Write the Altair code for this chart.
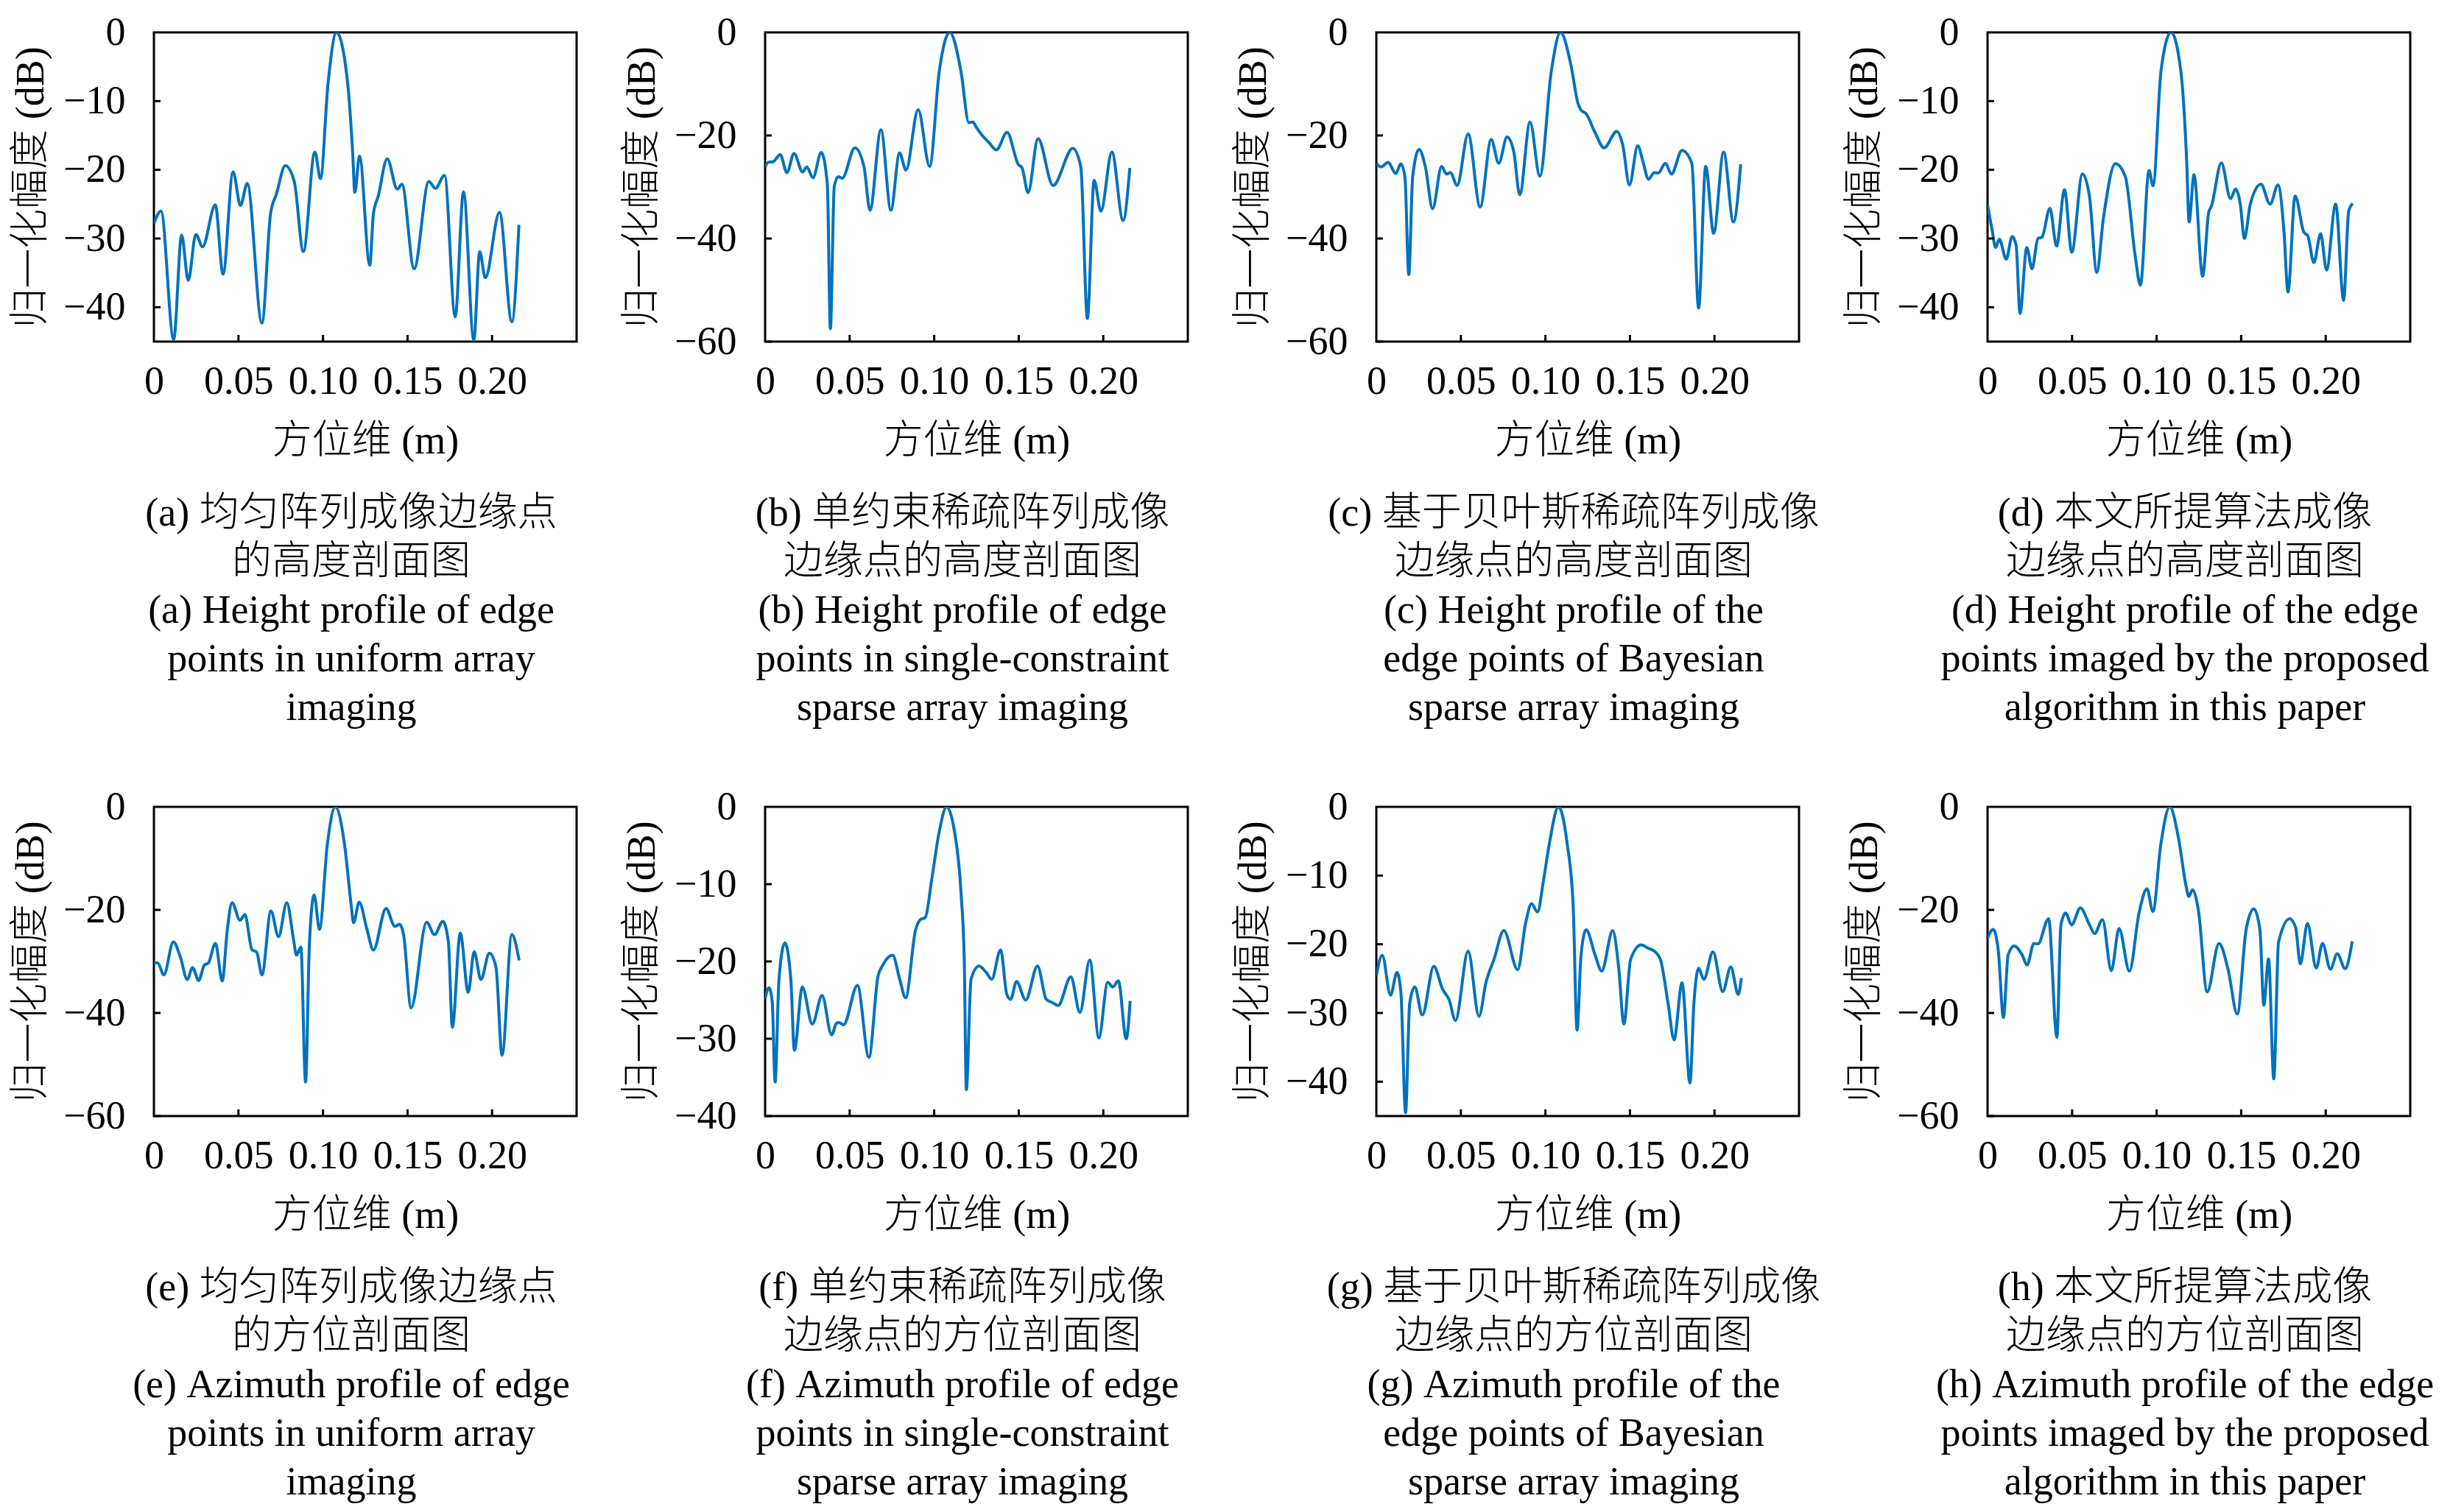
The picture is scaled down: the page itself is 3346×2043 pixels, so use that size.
import altair as alt
import pandas as pd

FONT = "'Liberation Serif', 'Noto Sans CJK SC'"
BLUE = "#0072BD"
W, H = 574, 420
TICK = 9

# x tick values (m) and y axis ranges
x_ticks = [0, 0.05, 0.10, 0.15, 0.20]
x_domain = [0, 0.25]

# ---- data: (azimuth m, normalized amplitude dB) ----
a_pts = [(0, -27.8), (0.0042, -26.0), (0.0117, -44.7), (0.0164, -29.5), (0.0203, -36.1), (0.0248, -29.4),
         (0.0288, -31.2), (0.0363, -25.1), (0.0409, -35.2), (0.0468, -20.3), (0.0512, -25.2), (0.0552, -22.0),
         (0.0639, -42.3), (0.069, -26.4), (0.0725, -23.5), (0.0777, -19.4), (0.083, -21.7), (0.0884, -31.9),
         (0.0952, -17.4), (0.0985, -21.3), (0.103, -7.4), (0.108, 0), (0.1146, -7.4), (0.1177, -18.2),
         (0.1188, -23.3), (0.1216, -18.0), (0.1277, -33.9), (0.1298, -26.4), (0.1326, -23.9), (0.138, -18.4),
         (0.1439, -22.8), (0.1467, -22.1), (0.1539, -34.4), (0.1626, -21.7), (0.1665, -22.7), (0.1719, -20.8),
         (0.1782, -41.4), (0.1831, -23.2), (0.1892, -44.8), (0.1927, -31.9), (0.196, -35.7), (0.2044, -26.2),
         (0.2117, -42.1), (0.2159, -28.0)]

b_pts = [(0, -26.1), (0.0019, -25.2), (0.0047, -25.1), (0.0089, -23.7), (0.0129, -27.2), (0.0171, -23.5),
         (0.0222, -27.1), (0.0246, -26.1), (0.0283, -28.2), (0.0332, -23.3), (0.0368, -29.5), (0.0386, -57.5),
         (0.0409, -29.9), (0.0433, -28.0), (0.0456, -28.3), (0.0531, -22.4), (0.0585, -26.1), (0.062, -34.5),
         (0.0685, -18.9), (0.0744, -34.5), (0.0795, -23.4), (0.0833, -26.7), (0.0905, -15.0), (0.0973, -26.0),
         (0.103, -7.5), (0.1092, 0), (0.1158, -7.5), (0.1205, -17.5), (0.1228, -17.4), (0.1251, -18.5),
         (0.1287, -20.1), (0.1322, -21.3), (0.1368, -22.8), (0.1431, -19.4), (0.1497, -25.6), (0.152, -26.3),
         (0.1555, -31.1), (0.1614, -20.6), (0.1703, -29.7), (0.182, -22.5), (0.1867, -26.1), (0.1906, -55.5),
         (0.1946, -28.7), (0.1986, -34.7), (0.2051, -23.2), (0.2117, -36.5), (0.2157, -26.3)]

c_pts = [(0, -25.4), (0.0028, -26.1), (0.007, -25.2), (0.0115, -27.4), (0.0145, -25.5), (0.0169, -28.0),
         (0.0192, -47.0), (0.0215, -28.0), (0.0253, -22.7), (0.029, -26.1), (0.0333, -34.2), (0.0386, -26.0),
         (0.0415, -27.5), (0.0438, -27.2), (0.0478, -29.7), (0.0543, -19.7), (0.0614, -33.9), (0.0679, -20.8),
         (0.0724, -25.4), (0.0773, -20.3), (0.0813, -23.2), (0.0848, -31.5), (0.0909, -17.4), (0.0967, -27.9),
         (0.1035, -7.5), (0.1089, 0), (0.1152, -6.5), (0.1192, -13.7), (0.1211, -15.1), (0.1241, -15.8),
         (0.1293, -19.4), (0.1347, -22.4), (0.1422, -19.2), (0.1457, -21.8), (0.1497, -29.6), (0.1546, -22.0),
         (0.1578, -25.2), (0.1609, -28.5), (0.1644, -27.2), (0.1667, -27.3), (0.171, -25.4), (0.1745, -27.5),
         (0.1808, -22.9), (0.1866, -25.4), (0.1906, -53.5), (0.1948, -26.0), (0.1995, -39.0), (0.2054, -23.2),
         (0.2112, -36.8), (0.2155, -25.6)]

d_pts = [(0, -25.1), (0.0028, -28.9), (0.0047, -31.3), (0.007, -30.1), (0.011, -33.0), (0.0146, -29.7),
         (0.0169, -31.0), (0.0192, -40.9), (0.0232, -31.3), (0.0263, -34.4), (0.0298, -30.0), (0.0322, -29.8),
         (0.0369, -25.6), (0.0408, -31.1), (0.0455, -22.9), (0.0498, -32.0), (0.0561, -20.6), (0.0603, -23.9),
         (0.0646, -34.9), (0.0685, -27.1), (0.0756, -19.1), (0.0815, -21.0), (0.0873, -32.5), (0.0904, -36.8),
         (0.0955, -20.1), (0.0979, -22.3), (0.1026, -5.6), (0.1085, 0), (0.1143, -5.6), (0.1178, -18.9),
         (0.1192, -27.6), (0.1221, -20.7), (0.1272, -35.5), (0.1308, -26.2), (0.1324, -25.3), (0.1383, -19.0),
         (0.1437, -24.2), (0.1467, -22.8), (0.1495, -25.0), (0.1519, -30.0), (0.1554, -25.0), (0.1617, -22.1),
         (0.1671, -25.0), (0.1718, -22.2), (0.1753, -28.9), (0.1777, -37.8), (0.1819, -23.8), (0.1871, -29.1),
         (0.1894, -29.6), (0.193, -33.5), (0.197, -29.3), (0.2005, -34.6), (0.2059, -25.0), (0.2106, -39.0),
         (0.2136, -26.0), (0.216, -24.9)]

e_pts = [(0, -30.2), (0.0023, -30.3), (0.0059, -32.6), (0.0115, -26.2), (0.0157, -29.2), (0.0197, -33.5),
         (0.0228, -31.2), (0.0265, -33.7), (0.0298, -30.7), (0.0322, -30.3), (0.0364, -26.5), (0.0404, -33.8),
         (0.0434, -23.9), (0.0462, -18.6), (0.0509, -22.0), (0.0538, -20.9), (0.058, -27.7), (0.0608, -28.2),
         (0.0639, -32.6), (0.0692, -20.2), (0.0737, -25.2), (0.0786, -18.6), (0.0826, -25.8), (0.0843, -28.8),
         (0.0869, -27.2), (0.0897, -53.4), (0.092, -26.3), (0.0948, -17.1), (0.0979, -23.8), (0.1026, -7.2),
         (0.1073, 0), (0.1127, -7.2), (0.1167, -19.1), (0.1181, -22.5), (0.1214, -18.5), (0.1261, -23.9),
         (0.1298, -27.8), (0.1373, -19.7), (0.1425, -23.2), (0.1453, -22.8), (0.1477, -24.9), (0.1521, -39.0),
         (0.1613, -22.4), (0.166, -24.8), (0.1709, -22.2), (0.1742, -26.3), (0.1765, -42.8), (0.1812, -24.5),
         (0.1859, -36.0), (0.1894, -28.1), (0.1934, -33.5), (0.1984, -28.4), (0.2023, -31.1), (0.2059, -48.2),
         (0.2117, -24.8), (0.216, -29.8)]

f_pts = [(0, -24.8), (0.0023, -23.4), (0.0042, -25.2), (0.0059, -35.6), (0.0082, -22.3), (0.0117, -17.6),
         (0.0152, -22.3), (0.0173, -31.5), (0.022, -23.3), (0.0279, -28.1), (0.0337, -24.4), (0.0393, -29.5),
         (0.0422, -28.0), (0.0438, -27.9), (0.0464, -28.2), (0.0546, -23.1), (0.0614, -32.4), (0.0667, -22.0),
         (0.0698, -20.4), (0.0754, -19.2), (0.0796, -22.3), (0.0831, -24.7), (0.089, -15.9), (0.0918, -14.6),
         (0.0948, -14.3), (0.0984, -9.6), (0.103, -3.2), (0.1073, 0), (0.112, -3.2), (0.1159, -11.2),
         (0.1178, -20.0), (0.119, -36.6), (0.1218, -22.3), (0.1265, -20.6), (0.1307, -21.4), (0.134, -22.3),
         (0.1393, -18.5), (0.1429, -24.2), (0.1452, -24.9), (0.1487, -22.6), (0.1541, -25.0), (0.1611, -20.6),
         (0.1663, -24.9), (0.1698, -25.3), (0.1733, -25.7), (0.1808, -22.0), (0.1862, -26.6), (0.192, -19.8),
         (0.1974, -29.9), (0.2026, -22.7), (0.2056, -23.3), (0.2089, -22.5), (0.2136, -30.0), (0.2159, -25.1)]

g_pts = [(0, -24.6), (0.0035, -21.6), (0.0084, -27.4), (0.0122, -24.1), (0.0145, -26.9), (0.0173, -44.5),
         (0.0197, -28.7), (0.0227, -26.2), (0.0272, -30.3), (0.034, -23.2), (0.0391, -26.5), (0.0431, -28.1),
         (0.0468, -31.1), (0.0543, -21.0), (0.0607, -30.5), (0.0649, -25.5), (0.0696, -22.2), (0.0754, -18.0),
         (0.0836, -23.7), (0.0883, -16.9), (0.0918, -14.1), (0.0953, -15.3), (0.0988, -10.8), (0.1023, -5.4),
         (0.1077, 0), (0.1129, -5.4), (0.1164, -14.3), (0.1187, -32.5), (0.1211, -21.5), (0.1241, -17.9),
         (0.1293, -21.5), (0.1333, -23.9), (0.1398, -18.0), (0.1433, -23.3), (0.1464, -31.6), (0.1504, -22.2),
         (0.1567, -20.1), (0.1609, -20.6), (0.1644, -21.0), (0.168, -22.2), (0.1726, -28.7), (0.1761, -33.9),
         (0.1808, -25.6), (0.1855, -40.2), (0.1878, -28.7), (0.1906, -23.5), (0.1937, -25.1), (0.1991, -21.1),
         (0.2049, -26.9), (0.2096, -23.3), (0.2141, -27.3), (0.2159, -24.9)]

h_pts = [(0, -25.5), (0.0033, -23.8), (0.0063, -27.7), (0.0094, -40.9), (0.0122, -28.7), (0.0157, -27.0),
         (0.0204, -28.7), (0.0234, -30.7), (0.0274, -26.5), (0.0298, -26.6), (0.0361, -21.7), (0.041, -44.7),
         (0.0434, -22.9), (0.0462, -20.6), (0.0497, -22.9), (0.0549, -19.6), (0.0603, -22.9), (0.0633, -24.6),
         (0.068, -21.9), (0.0732, -31.8), (0.0778, -23.6), (0.0839, -31.9), (0.0896, -20.6), (0.0943, -15.9),
         (0.0978, -20.3), (0.1025, -7.2), (0.1078, 0), (0.113, -6.2), (0.1175, -15.5), (0.119, -17.4),
         (0.1212, -16.1), (0.1247, -20.1), (0.1299, -35.9), (0.1369, -26.5), (0.1423, -31.6), (0.1477, -40.2),
         (0.1529, -23.9), (0.1575, -19.8), (0.1611, -23.9), (0.1634, -38.5), (0.1662, -29.5), (0.1693, -52.8),
         (0.1721, -26.3), (0.1787, -21.7), (0.1822, -23.4), (0.185, -30.5), (0.1892, -22.6), (0.1944, -31.3),
         (0.1981, -26.5), (0.2028, -31.5), (0.2068, -28.5), (0.2115, -31.4), (0.2157, -26.1)]

# y axis settings per panel: (domain min, tick values)
y45 = (-45, [0, -10, -20, -30, -40])
y60 = (-60, [0, -20, -40, -60])
y40 = (-40, [0, -10, -20, -30, -40])

captions = {
    "a": ["(a) 均匀阵列成像边缘点", "的高度剖面图", "(a) Height profile of edge", "points in uniform array", "imaging"],
    "b": ["(b) 单约束稀疏阵列成像", "边缘点的高度剖面图", "(b) Height profile of edge", "points in single-constraint", "sparse array imaging"],
    "c": ["(c) 基于贝叶斯稀疏阵列成像", "边缘点的高度剖面图", "(c) Height profile of the", "edge points of Bayesian", "sparse array imaging"],
    "d": ["(d) 本文所提算法成像", "边缘点的高度剖面图", "(d) Height profile of the edge", "points imaged by the proposed", "algorithm in this paper"],
    "e": ["(e) 均匀阵列成像边缘点", "的方位剖面图", "(e) Azimuth profile of edge", "points in uniform array", "imaging"],
    "f": ["(f) 单约束稀疏阵列成像", "边缘点的方位剖面图", "(f) Azimuth profile of edge", "points in single-constraint", "sparse array imaging"],
    "g": ["(g) 基于贝叶斯稀疏阵列成像", "边缘点的方位剖面图", "(g) Azimuth profile of the", "edge points of Bayesian", "sparse array imaging"],
    "h": ["(h) 本文所提算法成像", "边缘点的方位剖面图", "(h) Azimuth profile of the edge", "points imaged by the proposed", "algorithm in this paper"],
}

x_title = "方位维 (m)"
y_title = "归一化幅度 (dB)"


def panel(pts, yset, caption):
    ymin, yticks = yset
    df = pd.DataFrame(pts, columns=["x", "y"])
    xs = alt.Scale(domain=x_domain, nice=False, zero=False)
    ys = alt.Scale(domain=[ymin, 0], nice=False, zero=False)
    xax = alt.Axis(values=x_ticks, title=x_title,
                   labelExpr="datum.value == 0 ? '0' : format(datum.value, '.2f')",
                   labelPadding=27, titlePadding=27, labelFlush=False, labelOverlap=False,
                   domain=False, ticks=False, grid=False)
    yax = alt.Axis(values=yticks, title=y_title, labelPadding=39, titlePadding=16,
                   domain=False, ticks=False, grid=False)
    line = alt.Chart(df).mark_line(color=BLUE, strokeWidth=4, interpolate="monotone", clip=True).encode(
        x=alt.X("x:Q", scale=xs, axis=xax),
        y=alt.Y("y:Q", scale=ys, axis=yax),
    )
    xt = alt.Chart(pd.DataFrame({"x": x_ticks[1:]})).mark_rule(color="black", strokeWidth=3).encode(
        x=alt.X("x:Q", scale=xs, axis=xax), y=alt.value(H), y2=alt.value(H - TICK))
    yt = alt.Chart(pd.DataFrame({"y": yticks[1:]})).mark_rule(color="black", strokeWidth=3).encode(
        y=alt.Y("y:Q", scale=ys, axis=yax), x=alt.value(0), x2=alt.value(TICK))
    return alt.layer(line, xt, yt).properties(
        width=W, height=H,
        title=alt.TitleParams(text=caption, orient="bottom", anchor="middle", frame="group",
                              fontSize=54, font=FONT, fontWeight=300, color="black",
                              lineHeight=66, offset=45, dx=-19),
    )


charts = [
    panel(a_pts, y45, captions["a"]),
    panel(b_pts, y60, captions["b"]),
    panel(c_pts, y60, captions["c"]),
    panel(d_pts, y45, captions["d"]),
    panel(e_pts, y60, captions["e"]),
    panel(f_pts, y40, captions["f"]),
    panel(g_pts, y45, captions["g"]),
    panel(h_pts, y60, captions["h"]),
]

chart = alt.concat(*charts, columns=4, spacing={"row": 632, "column": 256}, bounds="flush").properties(
    padding={"left": 6, "top": 7, "right": 0, "bottom": 0}, background="white"
).configure_view(stroke="black", strokeWidth=3).configure_axis(
    labelFont=FONT, labelFontSize=54, labelColor="black",
    titleFont=FONT, titleFontSize=54, titleColor="black", titleFontWeight=300,
)

chart.save("out.html", embed_options={"renderer": "svg", "actions": False})
